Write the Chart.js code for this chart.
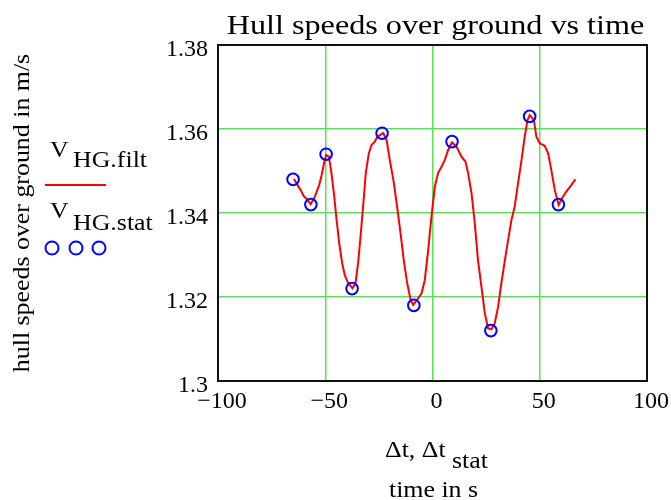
<!DOCTYPE html>
<html>
<head>
<meta charset="utf-8">
<script src="https://cdn.jsdelivr.net/npm/chart.js@4.4.1/dist/chart.umd.min.js"></script>
<style>
  html, body { margin: 0; padding: 0; background: #ffffff; }
  #c { display: block; }
</style>
</head>
<body>
<canvas id="c" width="671" height="500"></canvas>
<script>
// ---- data ----
const filtTime = [-64.6,-62.6,-61.5,-60.0,-58.6,-56.8,-54.8,-52.8,-51.7,-50.6,-49.6,-48.3,-47.1,-45.8,-44.7,-43.5,-42.1,-40.9,-39.3,-37.3,-35.9,-34.7,-33.4,-32.1,-31.1,-29.7,-28.4,-26.9,-25.6,-23.8,-23.0,-21.4,-19.9,-18.0,-16.5,-14.9,-13.4,-11.8,-10.2,-9.0,-7.2,-5.1,-3.6,-2.0,-0.5,1.1,2.6,4.2,5.7,7.3,9.1,11.2,13.5,15.4,16.6,18.2,19.7,21.2,22.8,24.4,25.9,27.5,29.0,30.6,32.1,34.5,36.8,38.3,39.9,41.5,43.0,44.3,45.3,47.3,48.4,50.0,52.3,53.9,55.4,57.0,58.8,60.4,62.4,64.8,66.6];
const filtSpeed = [1.3481,1.3464,1.3455,1.3440,1.3433,1.3421,1.3439,1.3467,1.3490,1.3518,1.3538,1.3534,1.3495,1.3439,1.3383,1.3328,1.3280,1.3252,1.3233,1.3221,1.3233,1.3280,1.3352,1.3431,1.3495,1.3542,1.3562,1.3570,1.3582,1.3588,1.3590,1.3574,1.3526,1.3471,1.3415,1.3352,1.3288,1.3233,1.3193,1.3181,1.3193,1.3209,1.3240,1.3312,1.3391,1.3463,1.3495,1.3510,1.3526,1.3550,1.3568,1.3558,1.3534,1.3522,1.3495,1.3447,1.3376,1.3288,1.3225,1.3161,1.3125,1.3123,1.3137,1.3177,1.3233,1.3312,1.3383,1.3415,1.3471,1.3526,1.3582,1.3621,1.3633,1.3621,1.3582,1.3566,1.3560,1.3542,1.3502,1.3455,1.3419,1.3435,1.3451,1.3467,1.3480];
const statTime = [-65.0,-56.7,-49.6,-37.5,-23.5,-8.7,9.1,27.2,45.3,58.7];
const statSpeed = [1.348,1.342,1.354,1.322,1.359,1.318,1.357,1.312,1.363,1.342];

const xTickValues = [-100,-50,0,50,100];
const xTickLabels = ['\u2212100','\u221250','0','50','100'];
const yTickValues = [1.3,1.32,1.34,1.36,1.38];
const yTickLabels = ['1.3','1.32','1.34','1.36','1.38'];

const titleText = 'Hull speeds over ground vs time';
const yTitleText = 'hull speeds over ground in m/s';
const xTitleMain = '\u0394t, \u0394t';
const xTitleSub = 'stat';
const xTitleLine2 = 'time in s';
const legendMain = 'V';
const legendSub1 = 'HG.filt';
const legendSub2 = 'HG.stat';

// ---- styling ----
const FONT = '"Liberation Serif", "Times New Roman", serif';
const SX = 1.15;         // horizontal stretch of the reference font
const TXT = 22.5;
const GRID = '#4fe84f';

function sText(ctx, str, x, y, align, size) {
  ctx.save();
  ctx.font = size + 'px ' + FONT;
  const w = ctx.measureText(str).width * SX;
  const x0 = align === 'center' ? x - w / 2 : (align === 'right' ? x - w : x);
  ctx.translate(x0, y);
  ctx.scale(SX, 1);
  ctx.textAlign = 'left';
  ctx.textBaseline = 'alphabetic';
  ctx.fillStyle = '#000';
  ctx.fillText(str, 0, 0);
  ctx.restore();
}

const decor = {
  id: 'decor',
  afterDraw(chart) {
    const ctx = chart.ctx;
    const a = chart.chartArea;
    // frame
    ctx.save();
    ctx.strokeStyle = '#111';
    ctx.lineWidth = 2;
    ctx.strokeRect(a.left, a.top, a.right - a.left, a.bottom - a.top);
    ctx.restore();
    // title
    sText(ctx, titleText, (a.left + a.right) / 2 + 3, 34, 'center', 28);
    // y title (rotated)
    ctx.save();
    ctx.translate(28.5, 213);
    ctx.rotate(-Math.PI / 2);
    sText(ctx, yTitleText, 0, 0, 'center', TXT);
    ctx.restore();
    // x title
    sText(ctx, xTitleMain, 385, 457, 'left', TXT);
    sText(ctx, xTitleSub, 452, 468, 'left', TXT);
    sText(ctx, xTitleLine2, 433.5, 497, 'center', TXT);
    // legend
    sText(ctx, legendMain, 50, 157, 'left', TXT);
    sText(ctx, legendSub1, 73, 167, 'left', TXT);
    ctx.save();
    ctx.strokeStyle = '#ff0000';
    ctx.lineWidth = 2;
    ctx.beginPath();
    ctx.moveTo(45, 185);
    ctx.lineTo(106, 185);
    ctx.stroke();
    ctx.restore();
    sText(ctx, legendMain, 50, 218, 'left', TXT);
    sText(ctx, legendSub2, 73, 230, 'left', TXT);
    ctx.save();
    ctx.strokeStyle = '#0000ff';
    ctx.lineWidth = 2;
    [52, 76, 99].forEach(cx => {
      ctx.beginPath();
      ctx.arc(cx, 248, 6.5, 0, Math.PI * 2);
      ctx.stroke();
    });
    ctx.restore();
  }
};

const filtData = filtTime.map((t, i) => ({ x: t, y: filtSpeed[i] }));
const statData = statTime.map((t, i) => ({ x: t, y: statSpeed[i] }));

new Chart(document.getElementById('c'), {
  type: 'scatter',
  data: {
    datasets: [
      {
        label: 'V HG.stat',
        data: statData,
        showLine: false,
        pointRadius: 5.8,
        pointHoverRadius: 5.8,
        pointBorderWidth: 2,
        pointBorderColor: '#0000ff',
        pointBackgroundColor: 'rgba(0,0,0,0)',
        borderColor: '#0000ff',
        order: 0
      },
      {
        label: 'V HG.filt',
        data: filtData,
        showLine: true,
        borderColor: '#ff0000',
        borderWidth: 2,
        pointRadius: 0,
        tension: 0,
        order: 1
      }
    ]
  },
  options: {
    responsive: false,
    devicePixelRatio: 1,
    animation: false,
    layout: { padding: { left: 0, right: 24, top: 45, bottom: 0 } },
    plugins: {
      legend: { display: false },
      title: { display: false },
      tooltip: { enabled: false }
    },
    scales: {
      x: {
        type: 'linear',
        min: -100,
        max: 100,
        afterFit: s => { s.height = 119; },
        afterBuildTicks: s => { s.ticks = xTickValues.map(v => ({ value: v })); },
        ticks: {
          font: { family: FONT, size: 24 },
          color: '#000',
          padding: 6,
          labelOffset: 4,
          maxRotation: 0,
          autoSkip: false,
          callback: v => xTickLabels[xTickValues.indexOf(v)]
        },
        grid: {
          drawTicks: false,
          lineWidth: 1.5,
          color: c => (c.tick && (c.tick.value === -100 || c.tick.value === 100)) ? 'rgba(0,0,0,0)' : GRID
        },
        border: { display: false }
      },
      y: {
        type: 'linear',
        min: 1.3,
        max: 1.38,
        afterFit: s => { s.width = 218; },
        afterBuildTicks: s => { s.ticks = yTickValues.map(v => ({ value: v })); },
        ticks: {
          font: { family: FONT, size: 24 },
          color: '#000',
          padding: 10,
          labelOffset: 5,
          autoSkip: false,
          callback: (v, i) => yTickLabels[i]
        },
        grid: {
          drawTicks: false,
          lineWidth: 1.5,
          color: c => (c.tick && (Math.abs(c.tick.value - 1.3) < 1e-9 || Math.abs(c.tick.value - 1.38) < 1e-9)) ? 'rgba(0,0,0,0)' : GRID
        },
        border: { display: false }
      }
    }
  },
  plugins: [decor]
});
</script>
</body>
</html>
